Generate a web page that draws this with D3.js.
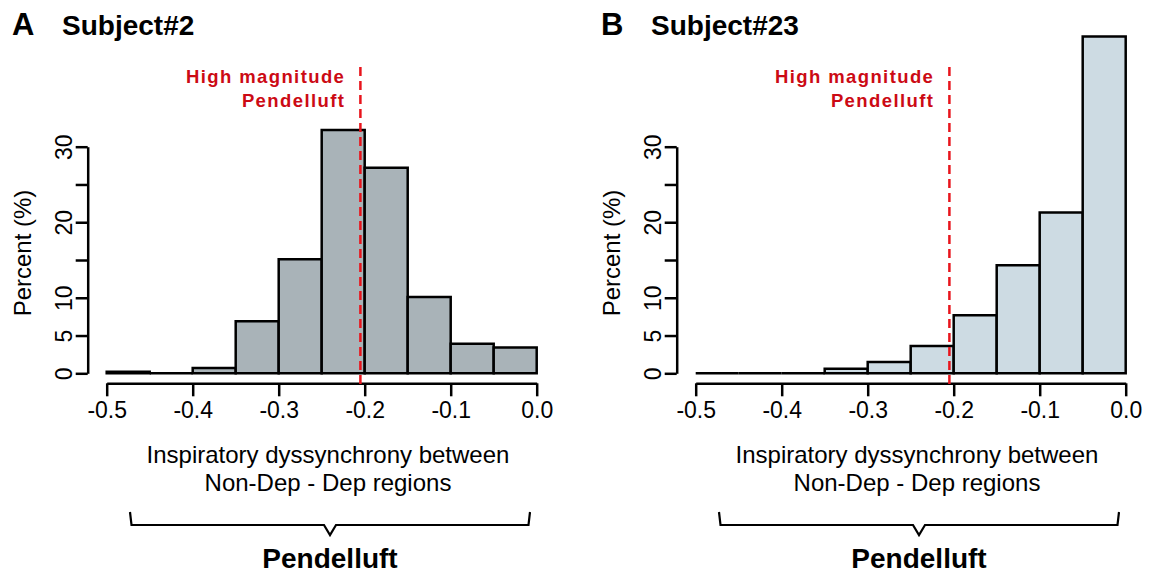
<!DOCTYPE html>
<html><head><meta charset="utf-8">
<script src="https://cdn.jsdelivr.net/npm/d3@7"></script>
<style>body{margin:0;background:#fff} svg{display:block} text{font-family:"Liberation Sans",Arial,Helvetica,sans-serif}</style>
</head><body>
<svg id="c" width="1155" height="574"></svg>
<script>
const binStarts = [-0.5,-0.45,-0.4,-0.35,-0.3,-0.25,-0.2,-0.15,-0.1,-0.05];
const binWidth = 0.05;
const subject2Percent  = [0.2,0,0.7,6.9,15.1,32.2,27.2,10.1,3.9,3.4];
const subject23Percent = [0,0,0,0.6,1.5,3.6,7.7,14.3,21.3,44.6];
const xTicks = [-0.5,-0.4,-0.3,-0.2,-0.1,0.0];
const xTickLabels = ["-0.5","-0.4","-0.3","-0.2","-0.1","0.0"];
const yTicks = [0,5,10,15,20,25,30];
const yTickLabels = ["0","5","10","","20","","30"];
const threshold = -0.205;
const xTitleLines = ["Inspiratory dyssynchrony between","Non-Dep - Dep regions"];

const panels = [
  {letter:"A", title:"Subject#2",  values:subject2Percent,  fill:"#a9b3b8", dx:0},
  {letter:"B", title:"Subject#23", values:subject23Percent, fill:"#cddbe3", dx:589}
];

const svg = d3.select("#c");

panels.forEach(p => {
  const g = svg.append("g").attr("transform", `translate(${p.dx},0)`);
  const x = d3.scaleLinear().domain([-0.5,0]).range([106.7,536.7]);
  const y = d3.scaleLinear().domain([0,30]).range([373.3,146.7]);

  // bars
  g.selectAll("path.bar").data(binStarts.map((s,i)=>({s, v:p.values[i]})))
    .enter().append("path").attr("class","bar")
    .attr("d", d => {
      const x0 = x(d.s), x1 = x(d.s+binWidth), y0 = y(0), y1 = y(d.v);
      return `M${x0},${y0}V${y1}H${x1}V${y0}Z`;
    })
    .attr("fill", p.fill).attr("stroke","#000").attr("stroke-width",2.5)
    .attr("stroke-linejoin","miter");

  // y axis
  const yAxis = d3.axisLeft(y).tickValues(yTicks).tickSize(12).tickSizeOuter(0)
    .tickFormat((d,i)=>yTickLabels[i]);
  const ya = g.append("g").attr("transform","translate(87.7,0)").call(yAxis);
  ya.select(".domain").attr("stroke-width",2.5);
  ya.selectAll(".tick line").attr("stroke-width",2.5);
  ya.selectAll(".tick text").attr("transform","rotate(-90)")
    .attr("x",0).attr("y",-16).attr("dy",0).attr("text-anchor","middle")
    .attr("font-size",23).attr("fill","#000");

  // x axis
  const xAxis = d3.axisBottom(x).tickValues(xTicks).tickSize(13).tickSizeOuter(0)
    .tickFormat((d,i)=>xTickLabels[i]);
  const xa = g.append("g").attr("transform","translate(0,383.3)").call(xAxis);
  xa.select(".domain").attr("stroke-width",2.5);
  xa.selectAll(".tick line").attr("stroke-width",2.5);
  xa.selectAll(".tick text").attr("y",35).attr("dy",0)
    .attr("font-size",23).attr("fill","#000");
  g.selectAll(".domain, .tick line").attr("stroke","#000");
  g.selectAll(".tick text").attr("font-family",null);

  // threshold line
  const tx = x(threshold);
  g.append("line").attr("x1",tx).attr("x2",tx).attr("y1",67).attr("y2",385)
    .attr("stroke","#e8141c").attr("stroke-width",2.5).attr("stroke-dasharray","9,5");
  const ls = 1.4;
  ["High magnitude","Pendelluft"].forEach((t,i)=>{
    g.append("text").attr("x",tx-16.5+ls).attr("y",i===0?83:107)
      .attr("text-anchor","end").attr("font-weight","bold").attr("font-size",18.5)
      .attr("letter-spacing",ls).attr("fill","#cc0a14").text(t);
  });

  // titles
  g.append("text").attr("x",12).attr("y",35).attr("font-weight","bold")
    .attr("font-size",31).text(p.letter);
  g.append("text").attr("x",62).attr("y",35).attr("font-weight","bold")
    .attr("font-size",28).text(p.title);

  // y title
  g.append("text").attr("transform","translate(31,253) rotate(-90)")
    .attr("text-anchor","middle").attr("font-size",24).text("Percent (%)");

  // x title
  xTitleLines.forEach((t,i)=>{
    g.append("text").attr("x",328).attr("y",463+i*28)
      .attr("text-anchor","middle").attr("font-size",24).text(t);
  });

  // brace
  g.append("path").attr("d","M130,512L131.5,525L324,525L330,535L336,525L528.5,525L530,512")
    .attr("fill","none").attr("stroke","#000").attr("stroke-width",2.2);
  g.append("text").attr("x",330).attr("y",568).attr("text-anchor","middle")
    .attr("font-weight","bold").attr("font-size",28).text("Pendelluft");
});
</script>
</body></html>
